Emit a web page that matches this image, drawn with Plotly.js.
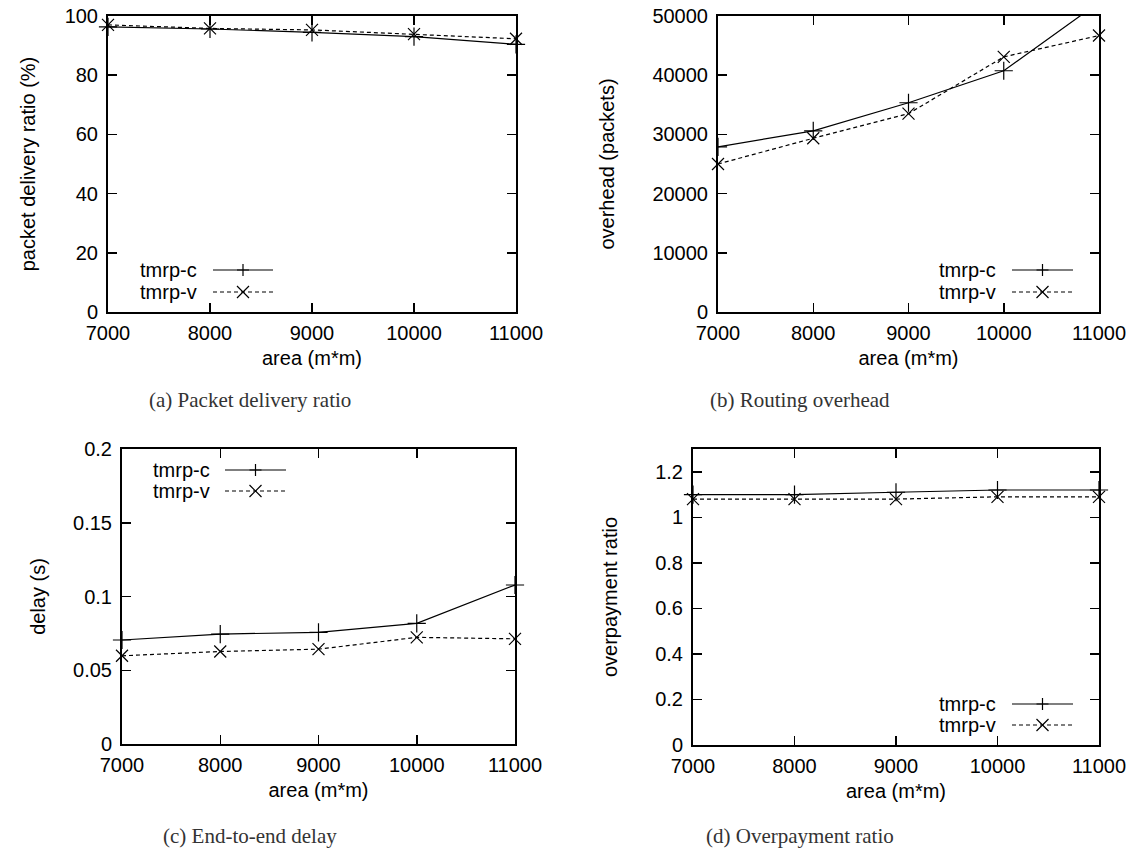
<!DOCTYPE html>
<html>
<head>
<meta charset="utf-8">
<script src="https://cdn.plot.ly/plotly-3.0.1.min.js"></script>
<style>html,body{margin:0;padding:0;background:#fff;}#chart{width:1144px;height:854px;}</style>
</head>
<body>
<div id="chart"></div>
<script>
// ---- data ----
const area = [7000, 8000, 9000, 10000, 11000];
const seriesNames = ["tmrp-c", "tmrp-v"];

const pdrC = [96.3, 95.6, 94.5, 93.0, 90.4];
const pdrV = [97.0, 95.8, 95.3, 93.9, 92.3];

const overheadC = [27900, 30600, 35350, 40750, 52300];
const overheadV = [25000, 29350, 33500, 43100, 46700];

const delayC = [0.0705, 0.0745, 0.0757, 0.0818, 0.1078];
const delayV = [0.0598, 0.0627, 0.0643, 0.0723, 0.0713];

const overpayC = [1.10, 1.10, 1.11, 1.12, 1.12];
const overpayV = [1.08, 1.08, 1.08, 1.09, 1.09];

const xTicks = [7000, 8000, 9000, 10000, 11000];
const captions = ["(a) Packet delivery ratio", "(b) Routing overhead", "(c) End-to-end delay", "(d) Overpayment ratio"];
const yTitles = ["packet delivery ratio (%)", "overhead (packets)", "delay (s)", "overpayment ratio"];
const xTitle = "area (m*m)";

// ---- layout helpers ----
const W = 1144, H = 854;
const px = x => x / W;
const py = y => 1 - y / H;

const sans = "Liberation Sans, Arial, sans-serif";
const serif = "Liberation Serif, Times New Roman, serif";

// panel boxes in pixels: [left, right, top, bottom]
const boxes = [
  [108, 516, 16, 312],
  [718, 1099, 16, 312],
  [122, 515, 449, 744],
  [693, 1099, 449, 745]
];
const captionPos = [[250, 400], [800, 400], [250, 836], [800, 836]];

const yRanges = [[0, 100], [0, 50000], [0, 0.2], [0, 1.3]];
const yDtick = [20, 10000, 0.05, 0.2];
const yStandoff = [24, 32, 22, 32];

const seriesC = [pdrC, overheadC, delayC, overpayC];
const seriesV = [pdrV, overheadV, delayV, overpayV];

const traces = [];
const layout = {
  width: W, height: H,
  margin: {l: 0, r: 0, t: 0, b: 0},
  paper_bgcolor: "#fff", plot_bgcolor: "#fff",
  showlegend: false,
  font: {family: sans, size: 20, color: "#000"},
  annotations: [], shapes: []
};

for (let i = 0; i < 4; i++) {
  const n = i === 0 ? "" : String(i + 1);
  const b = boxes[i];
  const ax = {
    domain: [px(b[0]), px(b[1])],
    anchor: "y" + n,
    range: [7000, 11000],
    tickvals: xTicks,
    ticktext: xTicks.map(String),
    ticks: "inside", ticklen: 9, tickwidth: 1.5, tickcolor: "#000",
    showline: true, linewidth: 2, linecolor: "#000", mirror: "allticks",
    showgrid: false, zeroline: false,
    tickfont: {family: sans, size: 20, color: "#000"},
    ticklabelstandoff: 2,
    title: {text: xTitle, font: {family: sans, size: 20, color: "#000"}, standoff: 8},
    automargin: false
  };
  const ay = {
    domain: [py(b[3]), py(b[2])],
    anchor: "x" + n,
    range: yRanges[i],
    dtick: yDtick[i], tick0: 0,
    tickformat: i === 1 ? "d" : "",
    ticks: "inside", ticklen: 9, tickwidth: 1.5, tickcolor: "#000",
    showline: true, linewidth: 2, linecolor: "#000", mirror: "allticks",
    showgrid: false, zeroline: false,
    tickfont: {family: sans, size: 20, color: "#000"},
    ticklabelstandoff: 4,
    title: {text: yTitles[i], font: {family: sans, size: 20, color: "#000"}, standoff: yStandoff[i]},
    automargin: false
  };
  layout["xaxis" + n] = ax;
  layout["yaxis" + n] = ay;

  traces.push({
    x: area, y: seriesC[i], xaxis: "x" + n, yaxis: "y" + n,
    name: seriesNames[0], type: "scatter", mode: "lines+markers",
    line: {color: "#000", width: 1.2},
    marker: {symbol: "cross-thin-open", size: 13, color: "#000", line: {color: "#000", width: 1.2}},
    cliponaxis: i === 1
  });
  traces.push({
    x: area, y: seriesV[i], xaxis: "x" + n, yaxis: "y" + n,
    name: seriesNames[1], type: "scatter", mode: "lines+markers",
    line: {color: "#000", width: 1.2, dash: "4px,3px"},
    marker: {symbol: "x-thin-open", size: 12, color: "#000", line: {color: "#000", width: 1.2}},
    cliponaxis: false
  });

  // caption
  layout.annotations.push({
    xref: "paper", yref: "paper",
    x: px(captionPos[i][0]), y: py(captionPos[i][1]),
    text: captions[i], showarrow: false,
    xanchor: "center", yanchor: "middle",
    font: {family: serif, size: 21, color: "#333"}
  });
}

// gnuplot-style keys: text right-justified, then line sample with marker
// [textRight, lineX0, lineX1, row1Y, row2Y]
const keys = [
  [199, 213, 273, 270, 292],
  [998, 1012, 1073, 270, 292],
  [212, 225, 286, 470, 491],
  [998, 1012, 1073, 704, 725]
];
keys.forEach(k => {
  for (let r = 0; r < 2; r++) {
    const yy = k[3 + r];
    layout.annotations.push({
      xref: "paper", yref: "paper", x: px(k[0]), y: py(yy),
      text: seriesNames[r], showarrow: false, xanchor: "right", yanchor: "middle",
      font: {family: sans, size: 20, color: "#000"}
    });
    layout.shapes.push({
      type: "line", xref: "paper", yref: "paper",
      x0: px(k[1]), x1: px(k[2]), y0: py(yy), y1: py(yy),
      line: {color: "#000", width: 1.2, dash: r === 0 ? "solid" : "4px,3px"}
    });
    const cx = (k[1] + k[2]) / 2, s = 6;
    let path;
    if (r === 0) {
      path = `M${px(cx - s)},${py(yy)} L${px(cx + s)},${py(yy)} M${px(cx)},${py(yy - s)} L${px(cx)},${py(yy + s)}`;
    } else {
      path = `M${px(cx - s)},${py(yy - s)} L${px(cx + s)},${py(yy + s)} M${px(cx - s)},${py(yy + s)} L${px(cx + s)},${py(yy - s)}`;
    }
    layout.shapes.push({type: "path", xref: "paper", yref: "paper", path: path, line: {color: "#000", width: 1.2}});
  }
});

Plotly.newPlot("chart", traces, layout, {displayModeBar: false, staticPlot: true});
</script>
</body>
</html>
